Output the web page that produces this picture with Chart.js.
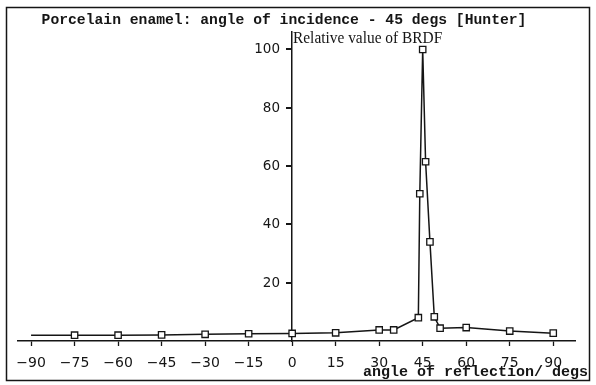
<!DOCTYPE html>
<html>
<head>
<meta charset="utf-8">
<script src="https://cdn.jsdelivr.net/npm/chart.js@4/dist/chart.umd.min.js"></script>
<style>
  html, body { margin: 0; padding: 0; background: #fff; }
  canvas { display: block; }
</style>
</head>
<body>
<canvas id="c" width="596" height="385"></canvas>
<script>
// ---- data ----
const angles = [-90, -75, -60, -45, -30, -15, 0, 15, 30, 35, 43.5, 44, 45, 46, 47.5, 49, 51, 60, 75, 90];
const brdf   = [2.0, 2.0, 2.0, 2.1, 2.3, 2.5, 2.6, 2.8, 3.8, 3.8, 8.0, 50.5, 100, 61.5, 34, 8.3, 4.4, 4.6, 3.4, 2.7];
const xTickValues = [-90, -75, -60, -45, -30, -15, 0, 15, 30, 45, 60, 75, 90];
const xTickLabels = ['\u221290', '\u221275', '\u221260', '\u221245', '\u221230', '\u221215', '0', '15', '30', '45', '60', '75', '90'];
const yTickValues = [20, 40, 60, 80, 100];
const yTickLabels = ['20', '40', '60', '80', '100'];
const titleText = 'Porcelain enamel: angle of incidence - 45 degs [Hunter]';
const yTitleText = 'Relative value of BRDF';
const xTitleText = 'angle of reflection/ degs';

const INK = '#151515';

const decor = {
  id: 'decor',
  beforeDraw(chart) {
    const ctx = chart.ctx;
    ctx.save();
    ctx.fillStyle = '#fff';
    ctx.fillRect(0, 0, chart.width, chart.height);
    ctx.restore();
  },
  afterDraw(chart) {
    const ctx = chart.ctx;
    const xs = chart.scales.x, ys = chart.scales.y;
    const yAxisX = Math.round(xs.getPixelForValue(0));
    ctx.save();
    // frame
    ctx.strokeStyle = INK;
    ctx.lineWidth = 1.5;
    ctx.strokeRect(6.5, 7.5, 583, 373);
    ctx.fillStyle = INK;
    // y tick marks and labels (positioned via the y scale)
    ctx.font = '13.5px "DejaVu Sans", Verdana, sans-serif';
    ctx.textAlign = 'right';
    ctx.textBaseline = 'middle';
    yTickValues.forEach((v, i) => {
      const py = Math.round(ys.getPixelForValue(v));
      ctx.fillRect(yAxisX - 6, py - 1, 6, 2);
      ctx.fillText(yTickLabels[i], yAxisX - 12, py + 0.5);
    });
    // title
    ctx.font = 'bold 14.7px "Liberation Mono", "DejaVu Sans Mono", monospace';
    ctx.textAlign = 'center';
    ctx.fillText(titleText, 284, 20);
    // y title
    ctx.save();
    ctx.translate(yAxisX + 1, 38);
    ctx.scale(0.88, 1);
    ctx.font = '17.5px "Liberation Serif", "DejaVu Serif", serif';
    ctx.textAlign = 'left';
    ctx.fillText(yTitleText, 0, 0);
    ctx.restore();
    // x title
    ctx.font = 'bold 15px "Liberation Mono", "DejaVu Sans Mono", monospace';
    ctx.textAlign = 'right';
    ctx.fillText(xTitleText, 588, 372);
    ctx.restore();
  }
};

new Chart(document.getElementById('c'), {
  type: 'line',
  data: {
    datasets: [{
      data: angles.map((a, i) => ({ x: a, y: brdf[i] })),
      borderColor: INK,
      borderWidth: 1.5,
      tension: 0,
      pointStyle: 'rect',
      pointRadius: (ctx) => (ctx.dataIndex === 0 ? 0 : 4.5),
      pointBorderWidth: 1.3,
      pointBorderColor: INK,
      pointBackgroundColor: '#fff',
      clip: false
    }]
  },
  options: {
    responsive: false,
    animation: false,
    devicePixelRatio: 1,
    layout: { padding: { left: 18, right: 21, top: 32, bottom: 0 } },
    plugins: { legend: { display: false }, tooltip: { enabled: false }, title: { display: false } },
    scales: {
      x: {
        type: 'linear',
        position: 'bottom',
        min: -94.5,
        max: 97.5,
        afterBuildTicks: (s) => { s.ticks = xTickValues.map(v => ({ value: v })); },
        afterFit: (s) => { s.height = 44; },
        grid: { display: true, drawOnChartArea: false, drawTicks: true, tickLength: 5, tickColor: INK, tickWidth: 1.3 },
        border: { display: true, color: INK, width: 1.5 },
        ticks: {
          color: INK,
          font: { family: '"DejaVu Sans", Verdana, sans-serif', size: 14 },
          padding: 9,
          maxRotation: 0,
          autoSkip: false,
          callback: (v) => { const i = xTickValues.indexOf(v); return i >= 0 ? xTickLabels[i] : ''; }
        }
      },
      y: {
        type: 'linear',
        position: { x: 0 },
        min: 0,
        max: 106,
        afterBuildTicks: (s) => { s.ticks = yTickValues.map(v => ({ value: v })); },
        grid: { display: false },
        border: { display: true, color: INK, width: 1.5 },
        ticks: { display: false }
      }
    }
  },
  plugins: [decor]
});
</script>
</body>
</html>
